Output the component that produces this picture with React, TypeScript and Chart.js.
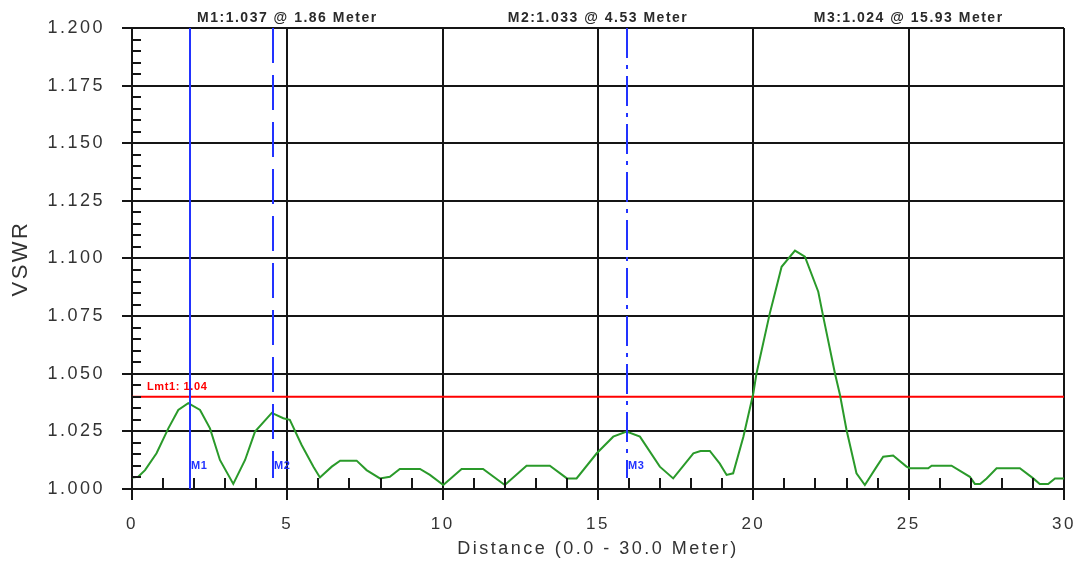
import React, { useEffect, useRef } from 'react';
import { Chart, registerables } from 'chart.js';

Chart.register(...registerables);

// ---- data ----
const distance = [
  0, 0.2, 0.42, 0.79, 1.17, 1.49, 1.81, 2.19, 2.51, 2.83, 3.26, 3.64, 3.96, 4.5, 4.87, 5.08,
  5.46, 5.84, 6.05, 6.43, 6.7, 7.23, 7.55, 7.98, 8.3, 8.62, 9.27, 9.59, 10.02, 10.61, 11.3,
  12.0, 12.7, 13.45, 14.0, 14.31, 14.96, 15.49, 15.92, 16.35, 16.99, 17.42, 18.07, 18.3, 18.6,
  18.92, 19.14, 19.35, 19.68, 20.0, 20.1, 20.53, 20.64, 20.91, 21.34, 21.66, 22.09, 22.25,
  22.63, 22.79, 23.0, 23.32, 23.59, 23.97, 24.18, 24.5, 24.93, 25.04, 25.63, 25.74, 26.38,
  26.97, 27.13, 27.3, 27.51, 27.83, 28.58, 29.01, 29.22, 29.49, 29.71, 30.0,
];
const vswr = [
  1.005, 1.0053, 1.0082, 1.0155, 1.0263, 1.0343, 1.0372, 1.0343, 1.0263, 1.0126, 1.0022,
  1.0126, 1.0249, 1.033, 1.0307, 1.03, 1.0191, 1.0097, 1.005, 1.0097, 1.0123, 1.0123, 1.0082,
  1.0046, 1.0053, 1.0087, 1.0087, 1.0061, 1.0017, 1.0087, 1.0087, 1.0017, 1.0101, 1.0101,
  1.0046, 1.0046, 1.0155, 1.0227, 1.0249, 1.0227, 1.0097, 1.0046, 1.0155, 1.0165, 1.0165,
  1.011, 1.0061, 1.0068, 1.0227, 1.0415, 1.05, 1.0762, 1.082, 1.0964, 1.1034, 1.1008, 1.0856,
  1.0748, 1.05, 1.0408, 1.0256, 1.0068, 1.0017, 1.0097, 1.014, 1.0145, 1.0097, 1.009, 1.009,
  1.0101, 1.0101, 1.0053, 1.0022, 1.0022, 1.0046, 1.009, 1.009, 1.0046, 1.0022, 1.0022,
  1.0046, 1.0046,
];

const xMin = 0;
const xMax = 30;
const xStep = 5;
const xMinorStep = 1;
const yMin = 1.0;
const yMax = 1.2;
const yStep = 0.025;
const yMinorStep = 0.005;

const markerNames = ['M1', 'M2', 'M3'];
const markerDist = [1.86, 4.53, 15.93];
const markerVswr = [1.037, 1.033, 1.024];
const markerDashes: number[][] = [[], [35, 12], [30, 7, 4, 7]];

const limitValue = 1.04;
const limitName = 'Lmt1';

const xTitle = 'Distance (0.0 - 30.0 Meter)';
const yTitle = 'VSWR';

const FONT = '"Liberation Sans", Arial, sans-serif';
const GRID = '#151515';
const BLUE = '#2233ff';

const spacingPlugin = {
  id: 'spacing',
  beforeUpdate(chart: any) {
    chart.ctx.letterSpacing = '2.5px';
  },
  beforeDraw(chart: any) {
    chart.ctx.letterSpacing = '2.5px';
  },
};

const decorPlugin = {
  id: 'decor',
  afterDatasetsDraw(chart: any) {
    const ctx = chart.ctx as CanvasRenderingContext2D;
    const { left, right, top, bottom } = chart.chartArea;
    const xs = chart.scales.x;
    const ys = chart.scales.y;
    ctx.save();
    // minor ticks
    ctx.strokeStyle = GRID;
    ctx.lineWidth = 2;
    ctx.beginPath();
    const nY = Math.round((yMax - yMin) / yMinorStep);
    const perY = Math.round(yStep / yMinorStep);
    for (let i = 1; i < nY; i++) {
      if (i % perY === 0) continue;
      const py = Math.round(ys.getPixelForValue(yMin + i * yMinorStep));
      ctx.moveTo(left, py);
      ctx.lineTo(left + 9, py);
    }
    const nX = Math.round((xMax - xMin) / xMinorStep);
    const perX = Math.round(xStep / xMinorStep);
    for (let i = 1; i < nX; i++) {
      if (i % perX === 0) continue;
      const px = Math.round(xs.getPixelForValue(xMin + i * xMinorStep));
      ctx.moveTo(px, bottom);
      ctx.lineTo(px, bottom - 11);
    }
    ctx.stroke();

    // marker lines
    markerDist.forEach((d, i) => {
      const px = Math.round(xs.getPixelForValue(d));
      ctx.strokeStyle = BLUE;
      ctx.lineWidth = 2;
      ctx.setLineDash(markerDashes[i]);
      ctx.beginPath();
      ctx.moveTo(px, top);
      ctx.lineTo(px, i === 0 ? bottom : bottom - 11);
      ctx.stroke();
      ctx.setLineDash([]);
      // marker label near bottom
      ctx.fillStyle = BLUE;
      ctx.font = `bold 11px ${FONT}`;
      (ctx as any).letterSpacing = '0.5px';
      ctx.textAlign = 'left';
      ctx.textBaseline = 'middle';
      ctx.fillText(markerNames[i], px + 1, bottom - 23);
    });

    // top marker readouts
    ctx.fillStyle = '#2a2a2a';
    ctx.font = `bold 14px ${FONT}`;
    (ctx as any).letterSpacing = '1.5px';
    ctx.textAlign = 'center';
    ctx.textBaseline = 'middle';
    markerNames.forEach((n, i) => {
      const cx = left + ((2 * i + 1) / 6) * (right - left);
      ctx.fillText(`${n}:${markerVswr[i].toFixed(3)} @ ${markerDist[i].toFixed(2)} Meter`, cx, top - 10);
    });

    // limit label
    const ly = ys.getPixelForValue(limitValue);
    ctx.fillStyle = '#ff0000';
    ctx.font = `bold 11px ${FONT}`;
    (ctx as any).letterSpacing = '0.6px';
    ctx.textAlign = 'left';
    ctx.fillText(`${limitName}: ${limitValue.toFixed(2)}`, left + 15, ly - 10);
    ctx.restore();
  },
};

export default function App() {
  const ref = useRef<HTMLCanvasElement | null>(null);
  useEffect(() => {
    if (!ref.current) return;
    const chart = new Chart(ref.current, {
      type: 'line',
      data: {
        datasets: [
          {
            label: 'VSWR',
            data: distance.map((d, i) => ({ x: d, y: vswr[i] })),
            borderColor: '#2a9a2a',
            borderWidth: 2,
            pointRadius: 0,
            tension: 0,
            fill: false,
          },
          {
            label: limitName,
            data: [
              { x: xMin, y: limitValue },
              { x: xMax, y: limitValue },
            ],
            borderColor: '#ff0000',
            borderWidth: 2,
            pointRadius: 0,
            fill: false,
          },
        ],
      },
      options: {
        responsive: false,
        animation: false,
        devicePixelRatio: 1,
        layout: { padding: { left: 0, top: 28, right: 19, bottom: 0 } },
        plugins: { legend: { display: false }, tooltip: { enabled: false }, title: { display: false } },
        scales: {
          x: {
            type: 'linear',
            min: xMin,
            max: xMax,
            afterFit: (s: any) => {
              s.height = 73;
              s.paddingLeft = 0;
              s.paddingRight = 0;
            },
            ticks: {
              stepSize: xStep,
              color: '#333',
              font: { family: FONT, size: 17 },
              padding: 14,
              maxRotation: 0,
            },
            grid: { color: GRID, lineWidth: 2, tickLength: 11 },
            border: { color: GRID, width: 2 },
            title: {
              display: true,
              text: xTitle,
              color: '#333',
              font: { family: FONT, size: 18 },
              padding: { top: 0, bottom: 2 },
            },
          },
          y: {
            type: 'linear',
            min: yMin,
            max: yMax,
            afterFit: (s: any) => {
              s.width = 132;
              s.paddingTop = 0;
              s.paddingBottom = 0;
            },
            ticks: {
              stepSize: yStep,
              color: '#333',
              font: { family: FONT, size: 18 },
              padding: 17,
              callback: (v: any) => Number(v).toFixed(3),
            },
            grid: { color: GRID, lineWidth: 2, tickLength: 10 },
            border: { color: GRID, width: 2 },
            title: {
              display: true,
              text: yTitle,
              color: '#333',
              font: { family: FONT, size: 22 },
              padding: { top: 8, bottom: 0 },
            },
          },
        },
      },
      plugins: [spacingPlugin, decorPlugin],
    } as any);
    return () => chart.destroy();
  }, []);
  return (
    <div style={{ position: 'absolute', left: 0, top: 0, width: 1083, height: 562, background: '#fff' }}>
      <canvas ref={ref} width={1083} height={562} style={{ display: 'block' }} />
    </div>
  );
}
